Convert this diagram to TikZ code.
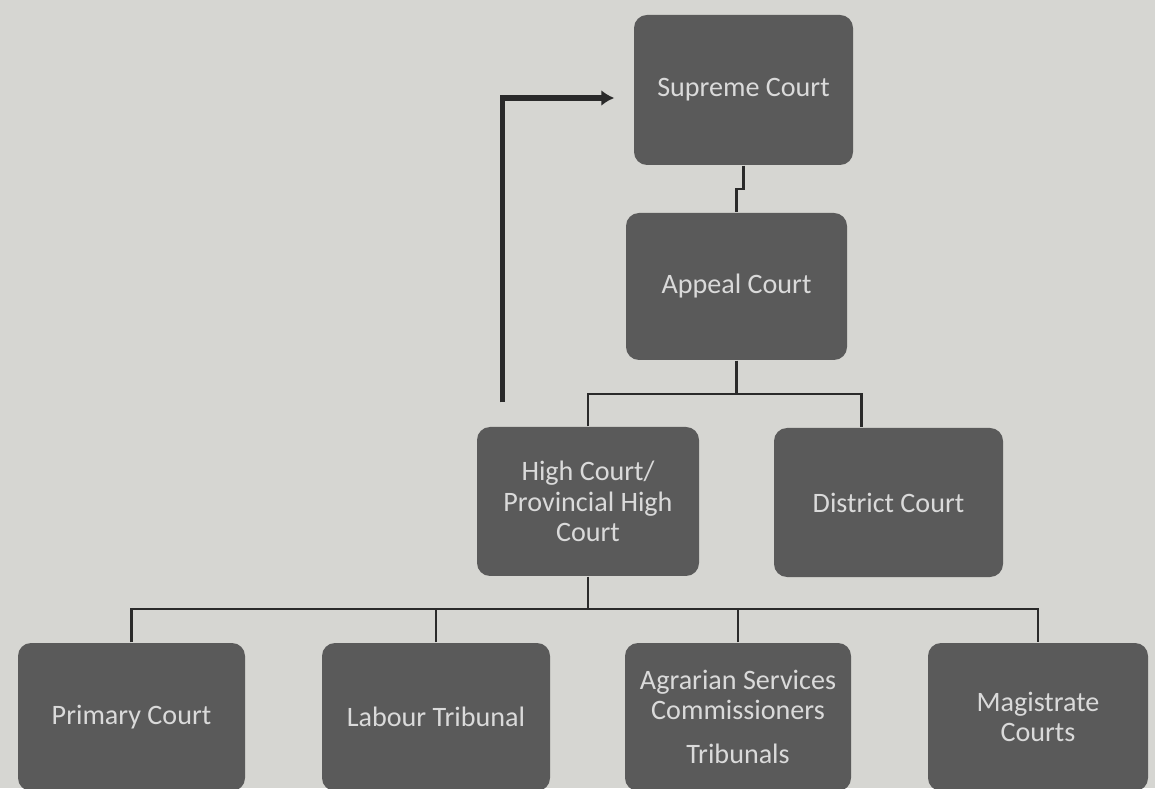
\documentclass[tikz,border=0pt]{standalone}
\usepackage{fontspec}
\setmainfont{Carlito}
\usetikzlibrary{calc,arrows.meta}
\definecolor{paper}{HTML}{D6D6D2}
\definecolor{boxgray}{HTML}{5A5A5A}
\definecolor{boxtext}{HTML}{DADADA}
\definecolor{inkline}{HTML}{2A2A2A}
\tikzset{
  court/.style={rectangle, rounded corners=1.3mm, fill=boxgray, text=boxtext,
    align=center, inner sep=0pt, font=\fontsize{8}{8.6}\selectfont},
  link/.style={draw=inkline, line width=0.6pt},
  uplink/.style={draw=inkline, line width=1.5pt, -{Latex[length=1.3mm,width=1.6mm]}}
}
\begin{document}
\begin{tikzpicture}
  % page and frame
  \useasboundingbox (0,0) rectangle (11.55,7.88);
  \clip (0,0) rectangle (11.55,7.88);
  \fill[paper] (0,0) rectangle (11.55,7.88);
  % top courts
  \node[court, minimum width=2.19cm, minimum height=1.50cm] (sup) at (7.435,6.98) {Supreme Court};
  \node[court, minimum width=2.21cm, minimum height=1.47cm] (app) at (7.365,5.015) {Appeal Court};
  \node[court, minimum width=2.22cm, minimum height=1.49cm] (hc) at (5.88,2.865)
    {High Court/\\Provincial High\\Court};
  \node[court, minimum width=2.29cm, minimum height=1.49cm] (dc) at (8.885,2.855) {District Court};
  % lower row, cut by the page edge
  \node[court, minimum width=2.27cm, minimum height=1.48cm] (pc) at (1.315,0.71) {Primary Court};
  \node[court, minimum width=2.28cm, minimum height=1.48cm] (lt) at (4.36,0.71) {Labour Tribunal};
  \node[court, minimum width=2.26cm, minimum height=1.48cm] (ag) at (7.38,0.71)
    {Agrarian Services\\Commissioners\\[4pt]Tribunals};
  \node[court, minimum width=2.20cm, minimum height=1.48cm] (mc) at (10.38,0.71)
    {Magistrate\\Courts};
  % connectors
  \draw[link] (sup.south) -- ++(0,-0.23) -| (app.north);
  \draw[link] (app.south) -- ++(0,-0.33) coordinate (bus1);
  \draw[link] (hc.north) |- (bus1) -| ($(dc.north)+(-0.27,0)$);
  \draw[link] (hc.south) -- ++(0,-0.32) coordinate (bus2);
  \draw[link] (pc.north) |- (bus2) -| (mc.north);
  \draw[link] (lt.north) -- (lt.north |- bus2);
  \draw[link] (ag.north) -- (ag.north |- bus2);
  % appeal route to the top
  \coordinate (hcup) at ($(hc.north west)+(0.26,0.24)$);
  \draw[uplink] (hcup) |- ($(sup.west)+(-0.19,-0.08)$);
\end{tikzpicture}
\end{document}
